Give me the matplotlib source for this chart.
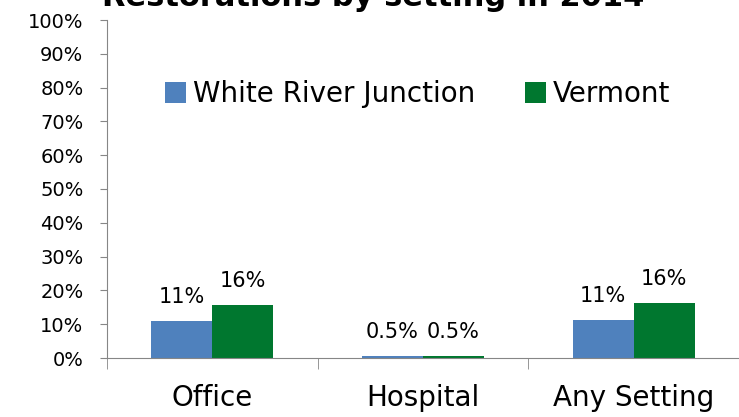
import matplotlib.pyplot as plt
import numpy as np

categories = ["Office", "Hospital", "Any Setting"]
wrj = [11, 0.5, 11.2]
vermont = [15.7, 0.5, 16.2]
wrj_labels = ["11%", "0.5%", "11%"]
vt_labels = ["16%", "0.5%", "16%"]

plt.rcParams["font.family"] = ["DejaVu Sans"]

fig = plt.figure(figsize=(7.39, 4.17), dpi=100)
ax = fig.add_axes([107 / 739, 59 / 417, 632 / 739, 338 / 417])

x = np.arange(len(categories))
w = 0.29
b1 = ax.bar(x - w / 2, wrj, w, color="#4f81bd", label="White River Junction")
b2 = ax.bar(x + w / 2, vermont, w, color="#00772f", label="Vermont")

for bars, labs in ((b1, wrj_labels), (b2, vt_labels)):
    for bar, lab in zip(bars, labs):
        ax.annotate(lab, (bar.get_x() + bar.get_width() / 2, bar.get_height()),
                    xytext=(0, 10), textcoords="offset points",
                    ha="center", va="bottom", fontsize=15)

ax.set_xlim(-0.5, 2.5)
ax.set_ylim(0, 100)
ax.set_yticks(range(0, 101, 10))
ax.set_yticklabels([f"{v}%" for v in range(0, 101, 10)], fontsize=14)
ax.set_xticks(x)
ax.set_xticklabels(categories, fontsize=20)
ax.tick_params(axis="x", length=0, pad=19)
ax.set_xticks([-0.5, 0.5, 1.5, 2.5], minor=True)
ax.tick_params(axis="x", which="minor", length=8, color="#868686")
ax.tick_params(axis="y", length=5, pad=12, color="#868686")

for s in ("top", "right"):
    ax.spines[s].set_visible(False)
for s in ("left", "bottom"):
    ax.spines[s].set_color("#868686")

ax.legend(loc="center", bbox_to_anchor=(0.492, 0.78), ncol=2, frameon=False,
          fontsize=20, handlelength=0.75, handleheight=0.75, handletextpad=0.25,
          columnspacing=1.8)

fig.text(0.505, 1 - 6 / 417, "Restorations by setting in 2014", ha="center",
         va="baseline", fontsize=22, fontweight="bold")

fig.savefig("out.png", dpi=100)
